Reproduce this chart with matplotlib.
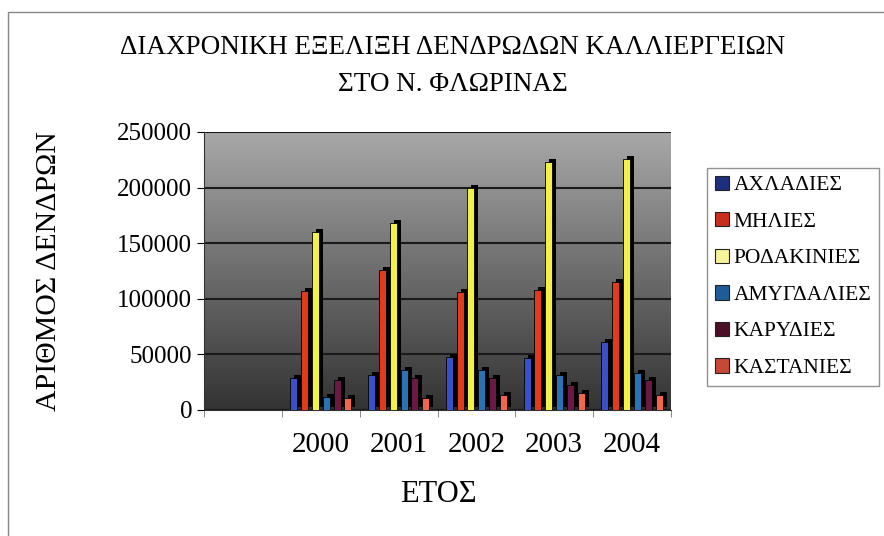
#!/usr/bin/env python
"""Fruit tree evolution chart, Florina prefecture"""
import numpy as np
import matplotlib
matplotlib.use('Agg')
import matplotlib.pyplot as plt
from matplotlib.patches import Patch, Rectangle
from matplotlib.colors import LinearSegmentedColormap
from matplotlib.transforms import ScaledTranslation

plt.rcParams['font.family'] = ['Liberation Serif', 'DejaVu Serif']

# ---- data ----
years = ['', '2000', '2001', '2002', '2003', '2004']   # first slot is empty in the original
series = ['ΑΧΛΑΔΙΕΣ', 'ΜΗΛΙΕΣ', 'ΡΟΔΑΚΙΝΙΕΣ', 'ΑΜΥΓΔΑΛΙΕΣ', 'ΚΑΡΥΔΙΕΣ', 'ΚΑΣΤΑΝΙΕΣ']
axladies   = [np.nan, 29000, 31500, 48000, 46500, 61000]
milies     = [np.nan, 107000, 126000, 106000, 108000, 115000]
rodakinies = [np.nan, 160000, 168000, 200000, 223000, 226000]
amygdalies = [np.nan, 12000, 36000, 36000, 31500, 33000]
karydies   = [np.nan, 27000, 29000, 29000, 22500, 27000]
kastanies  = [np.nan, 11000, 11000, 13500, 15000, 13500]
values = [axladies, milies, rodakinies, amygdalies, karydies, kastanies]

bar_colors = ['#3a50c8', '#e23a1c', '#f4f04a', '#2a72b4', '#6a1a42', '#f2664c']
legend_colors = ['#1e2e7c', '#c8301c', '#f6f398', '#1e5c98', '#4a1028', '#c84838']

W, H = 884, 536
fig = plt.figure(figsize=(W / 100, H / 100), dpi=100)

# chart-area border
fig.patches.append(Rectangle((8 / W, -0.1), 1.2, 1 - 12 / H + 0.1, transform=fig.transFigure,
                             fill=False, edgecolor='#888888', linewidth=1.0))

ax = fig.add_axes([204 / W, 1 - 410 / H, (671 - 204) / W, (410 - 132) / H])

# gradient back wall (light at top, dark at bottom)
grad = np.linspace(0, 1, 256).reshape(-1, 1)
wall = LinearSegmentedColormap.from_list('wall', ['#a8a8a8', '#333333'])
ax.imshow(grad, cmap=wall, extent=[-0.5, 5.5, 0, 250000], origin='upper',
          aspect='auto', zorder=0)

x = np.arange(len(years))
width = 0.09
step = 0.14
shift = ax.transData + ScaledTranslation(4 / 100, 3 / 100, fig.dpi_scale_trans)
for i, (vals, c) in enumerate(zip(values, bar_colors)):
    pos = x + (i - 2.5) * step
    sh = ax.bar(pos, vals, width=width, color='black', zorder=3 + 2 * i)
    for p in sh:
        p.set_transform(shift)
    ax.bar(pos, vals, width=width, color=c, edgecolor='black', linewidth=0.6, zorder=4 + 2 * i)

ax.set_xlim(-0.5, 5.5)
ax.set_ylim(0, 250000)
ax.set_yticks(np.arange(0, 250001, 50000))
ax.yaxis.grid(True, color='#1a1a1a', linewidth=1.5, zorder=1)
ax.set_axisbelow(True)
ax.set_xticks(x)
ax.set_xticklabels(years, fontsize=21)
ax.set_xticks(np.arange(-0.5, 5.6, 1), minor=True)
ax.tick_params(axis='x', which='major', length=0, pad=16)
ax.tick_params(axis='x', which='minor', length=5, color='#777777')
ax.tick_params(axis='y', labelsize=18, length=5)
for s in ['top', 'right']:
    ax.spines[s].set_visible(False)
ax.spines['left'].set_color('#333333')
ax.spines['bottom'].set_color('#333333')

ax.set_ylabel('ΑΡΙΘΜΟΣ ΔΕΝΔΡΩΝ', fontsize=21.5, labelpad=40)
fig.text(438 / W, 1 - 495 / H, 'ΕΤΟΣ', fontsize=22, ha='center', va='center')
fig.text(453 / W, 1 - 66 / H, 'ΔΙΑΧΡΟΝΙΚΗ ΕΞΕΛΙΞΗ ΔΕΝΔΡΩΔΩΝ ΚΑΛΛΙΕΡΓΕΙΩΝ\nΣΤΟ Ν. ΦΛΩΡΙΝΑΣ',
         fontsize=19.5, ha='center', va='center', linespacing=1.6)

handles = [Patch(facecolor=c, edgecolor='#222222', linewidth=0.8) for c in legend_colors]
leg = fig.legend(handles, series, loc='upper left', bbox_to_anchor=(707 / W, 1 - 168 / H),
                 fontsize=15.5, frameon=True, fancybox=False, edgecolor='#777777',
                 handlelength=0.65, handleheight=0.65, handletextpad=0.25, labelspacing=0.78,
                 borderpad=0.35, borderaxespad=0)
leg.get_frame().set_linewidth(1.0)

plt.savefig('out.png', dpi=100)
plt.close()
